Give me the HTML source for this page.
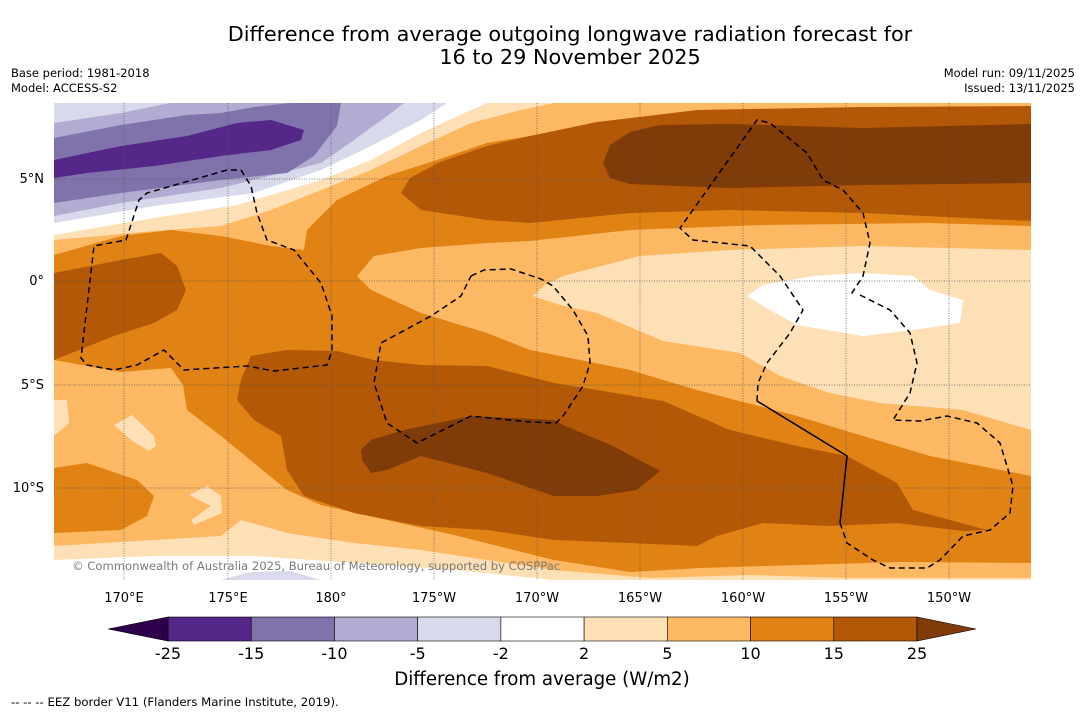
<!DOCTYPE html>
<html><head><meta charset="utf-8"><style>
html,body{margin:0;padding:0;background:#fff;}
svg{display:block;font-family:"DejaVu Sans","Liberation Sans",sans-serif;}
</style></head><body>
<svg id="chart" width="1085" height="713" viewBox="0 0 1085 713">
<text x="570" y="41" font-size="20.8" text-anchor="middle">Difference from average outgoing longwave radiation forecast for</text>
<text x="570" y="64" font-size="20.8" text-anchor="middle">16 to 29 November 2025</text>
<text x="11" y="77" font-size="11.5">Base period: 1981-2018</text>
<text x="11" y="92" font-size="11.5">Model: ACCESS-S2</text>
<text x="1075" y="77" font-size="11.5" text-anchor="end">Model run: 09/11/2025</text>
<text x="1075" y="92" font-size="11.5" text-anchor="end">Issued: 13/11/2025</text>

<defs><clipPath id="mapclip"><rect x="54" y="103" width="977" height="477"/></clipPath></defs>
<g clip-path="url(#mapclip)" stroke-linejoin="round">
<rect x="54" y="103" width="977" height="477" fill="#e08214"/>
<polygon fill="#fdb863" points="54,103 1031,103 1031,113 863,111 730,113 630,120 530,136 487,143 437,160 387,176 337,200 307,230 304,250 271,246 221,236 171,230 121,236 54,255"/>
<polygon fill="#fdb863" points="357,276 374,256 421,248 487,243 530,241 630,230 763,225 930,223 1031,226 1031,476 930,456 863,436 797,416 697,390 630,370 530,350 487,333 421,313 371,290"/>
<polygon fill="#fdb863" points="54,360 121,372 171,368 183,385 187,410 221,436 254,463 287,490 321,505 387,520 454,535 554,560 630,572 700,568 800,565 900,562 1031,563 1031,580 54,580"/>
<polygon fill="#e08214" points="54,468 87,463 137,480 154,496 147,516 121,530 54,533"/>
<polygon fill="#fee0b6" points="533,296 545,285 563,276 640,256 730,250 863,246 1031,250 1031,430 963,410 880,403 830,393 780,376 740,353 663,341 597,313 560,305"/>
<polygon fill="#fee0b6" points="54,400 67,400 69,423 54,436"/>
<polygon fill="#fee0b6" points="114,425 132,415 154,436 156,446 149,451 131,440"/>
<polygon fill="#fee0b6" points="189,495 207,486 221,496 222,513 194,525 191,520 211,506"/>
<polygon fill="#fee0b6" points="54,546 154,540 221,536 241,520 287,533 354,543 421,550 487,560 554,570 650,578 750,575 850,578 1031,578 1031,580 54,580"/>
<polygon fill="#ffffff" points="54,560 154,556 254,556 354,563 454,570 554,580 54,580"/>
<polygon fill="#d8daeb" points="221,580 250,572 290,571 321,580"/>
<polygon fill="#ffffff" points="747,296 763,285 813,276 863,273 913,276 930,290 963,300 960,323 913,330 863,336 797,325 770,310"/>
<polygon fill="#fee0b6" points="54,103 554,103 521,110 471,123 421,146 371,170 321,190 271,210 221,226 154,231 54,240"/>
<polygon fill="#ffffff" points="54,103 487,103 471,110 421,133 371,160 321,180 237,205 154,218 54,235"/>
<polygon fill="#d8daeb" points="54,103 447,103 421,120 371,146 321,170 254,193 154,206 54,223"/>
<polygon fill="#b2abd2" points="54,123 121,113 170,103 404,103 387,116 354,140 321,163 221,188 121,203 54,216"/>
<polygon fill="#8073ac" points="54,138 121,125 187,115 221,113 254,107 290,103 341,103 337,126 314,156 287,173 221,180 121,193 54,203"/>
<polygon fill="#542788" points="54,160 121,146 187,136 237,123 271,120 304,130 301,140 271,150 221,156 154,166 87,173 54,178"/>
<polygon fill="#b35806" points="401,193 410,178 440,162 487,146 530,136 597,122 697,110 863,107 1031,106 1031,221 863,213 730,210 630,213 530,223 487,220 421,210"/>
<polygon fill="#7f3b08" points="603,163 610,145 630,132 660,125 730,124 863,128 1031,124 1031,183 863,185 730,188 630,184 610,178"/>
<polygon fill="#b35806" points="54,273 121,260 161,253 177,266 186,290 177,310 154,323 114,336 54,360"/>
<polygon fill="#b35806" points="241,380 251,356 287,350 337,351 374,360 421,365 487,366 554,383 597,390 663,401 730,430 797,446 847,456 897,483 913,510 987,530 963,531 897,523 830,526 763,523 717,536 697,546 630,543 554,540 487,530 421,526 354,513 304,496 287,470 281,436 254,420 237,400"/>
<polygon fill="#7f3b08" points="361,450 371,440 404,430 471,416 554,420 563,425 613,446 660,471 637,490 597,496 554,496 487,473 421,456 387,470 371,473 362,460"/>
<g stroke="#555" stroke-width="0.7" stroke-dasharray="1,1.5">
<line x1="124" y1="103" x2="124" y2="580"/><line x1="228" y1="103" x2="228" y2="580"/><line x1="331" y1="103" x2="331" y2="580"/><line x1="434" y1="103" x2="434" y2="580"/><line x1="537" y1="103" x2="537" y2="580"/><line x1="640" y1="103" x2="640" y2="580"/><line x1="743" y1="103" x2="743" y2="580"/><line x1="846" y1="103" x2="846" y2="580"/><line x1="949" y1="103" x2="949" y2="580"/>
<line x1="54" y1="179" x2="1031" y2="179"/><line x1="54" y1="281" x2="1031" y2="281"/><line x1="54" y1="385" x2="1031" y2="385"/><line x1="54" y1="488" x2="1031" y2="488"/>
</g>
<g fill="none" stroke="#000" stroke-width="1.5" stroke-dasharray="6,4">
<polyline points="227,170 147,193 139,200 126,240 94,246 81,358 87,365 114,370 137,365 164,350 184,370 247,366 274,371 327,365 332,351 332,316 321,283 294,250 267,240 257,213 251,186 241,170 227,170"/>
<polyline points="471,276 484,270 511,269 541,279 553,286 573,310 588,336 590,363 583,386 563,416 556,423 530,422 471,416 417,443 387,423 374,383 381,343 431,316 461,296 471,276"/>
<polyline points="757,401 758,383 767,363 790,333 803,310 780,276 750,246 693,240 680,228 757,120 770,123 807,153 823,180 843,190 863,213 870,243 863,276 850,296"/>
<polyline points="860,295 890,310 910,333 917,363 910,393 893,420 920,421 947,416 977,423 1000,443 1013,486 1010,513 990,530 963,536 940,560 927,568 890,568 873,560 847,543 840,523"/>
</g>
<polyline fill="none" stroke="#000" stroke-width="1.5" points="840,523 847,456 757,401"/>
<text x="72" y="570" font-size="11.6" fill="#7a7a7a">© Commonwealth of Australia 2025, Bureau of Meteorology, supported by COSPPac</text>
</g>

<g font-size="13">
<text x="44" y="183" text-anchor="end">5°N</text>
<text x="44" y="285" text-anchor="end">0°</text>
<text x="44" y="389" text-anchor="end">5°S</text>
<text x="44" y="492" text-anchor="end">10°S</text>
</g>
<g font-size="13" text-anchor="middle">
<text x="124" y="602">170°E</text><text x="228" y="602">175°E</text><text x="331" y="602">180°</text><text x="434" y="602">175°W</text><text x="537" y="602">170°W</text><text x="640" y="602">165°W</text><text x="743" y="602">160°W</text><text x="846" y="602">155°W</text><text x="949" y="602">150°W</text>
</g>
<g id="colorbar"></g>
<text x="542" y="685" font-size="18.2" text-anchor="middle">Difference from average (W/m2)</text>
<text x="11" y="706" font-size="11.7">--  --  -- EEZ border V11 (Flanders Marine Institute, 2019).</text>
</svg>
<script>
const levels = [-25, -15, -10, -5, -2, 2, 5, 10, 15, 25];
const binColors = ["#542788", "#8073ac", "#b2abd2", "#d8daeb", "#ffffff", "#fee0b6", "#fdb863", "#e08214", "#b35806"];
const extendColors = ["#2d004b", "#7f3b08"];
const NS = "http://www.w3.org/2000/svg";
const cb = document.getElementById("colorbar");
const x0 = 168, x1 = 917, yTop = 617, h = 24;
const bw = (x1 - x0) / binColors.length;
function xOf(i) { return x0 + i * bw; }
function mk(tag, attrs) { const e = document.createElementNS(NS, tag); for (const k in attrs) e.setAttribute(k, attrs[k]); cb.appendChild(e); return e; }
binColors.forEach((c, i) => {
  const r = mk("rect", { x: xOf(i), y: yTop, width: bw, height: h, fill: c, stroke: "#000", "stroke-width": 0.6 });
  
  
});
const lt = mk("polygon", { points: `${x0},${yTop} ${x0},${yTop + h} 108,${yTop + h / 2}`, fill: extendColors[0], stroke: "#000", "stroke-width": 0.6 });


const rt = mk("polygon", { points: `${x1},${yTop} ${x1},${yTop + h} 976,${yTop + h / 2}`, fill: extendColors[1], stroke: "#000", "stroke-width": 0.6 });


levels.forEach((v, i) => {
  const t = mk("text", { x: xOf(i), y: 659, "font-size": 16, "text-anchor": "middle" });
  t.textContent = String(v);
  
  
});
</script>
</body></html>
